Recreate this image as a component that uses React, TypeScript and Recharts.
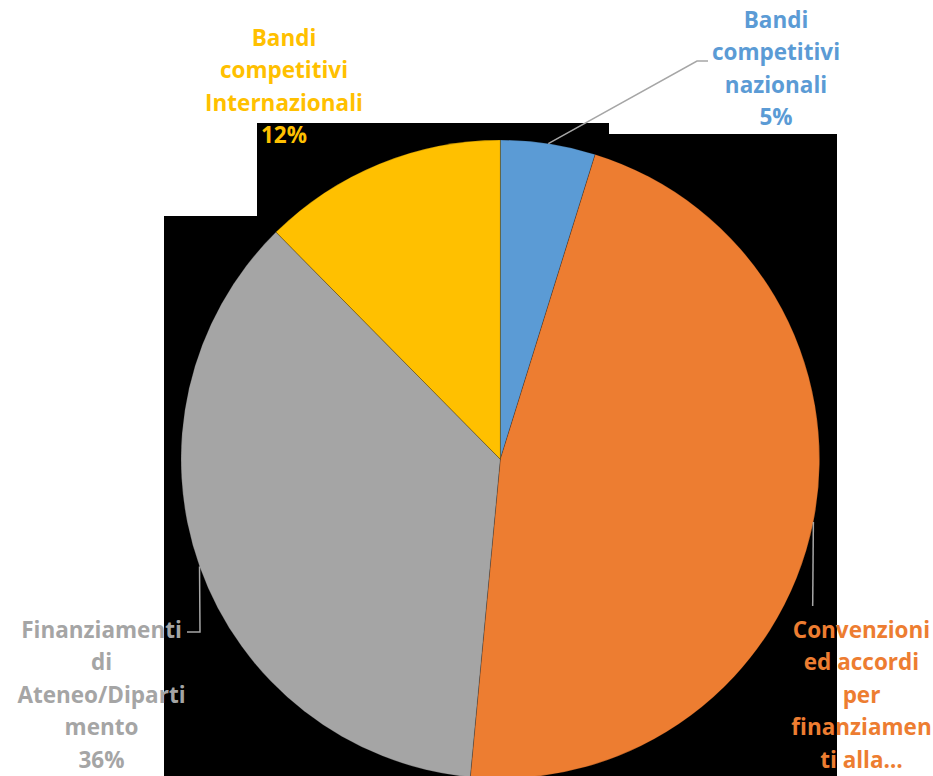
import React from "react";
import { PieChart, Pie, Cell } from "recharts";

// valori (percentuali)
const categories = [
  "Bandi\ncompetitivi\nnazionali",
  "Convenzioni\ned accordi\nper\nfinanziamen\nti alla…",
  "Finanziamenti\ndi\nAteneo/Diparti\nmento",
  "Bandi\ncompetitivi\nInternazionali",
];
const values = [4.8, 46.7, 36.1, 12.4];
const colors = ["#5B9BD5", "#ED7D31", "#A5A5A5", "#FFC000"];
const showPercent = [true, false, true, true];

const data = categories.map((name, i) => ({ name, value: values[i] }));

const CX = 500.3;
const CY = 459.3;
const R = 319.3;
const LINE_H = 32.4;
const RAD = Math.PI / 180;

// posizione della prima riga dell'etichetta e punti della linea guida, rispetto al centro
const labelLayout = [
  { dx: 275.7, dy: -431.3, leader: [[196.7, -398.3], [207.7, -398.3]] },
  { dx: 361.2, dy: 178.7, leader: [[312.4, 146.7]] },
  { dx: -398.8, dy: 178.7, leader: [[-300.3, 172.7], [-313.3, 172.7]] },
  { dx: -216.3, dy: -413.3, leader: null },
];

function renderLabel(props: any) {
  const { cx, cy, index, percent } = props;
  const layout = labelLayout[index];
  const lines = categories[index].split("\n");
  if (showPercent[index]) lines.push(`${Math.round(percent * 100)}%`);
  return (
    <text
      x={cx + layout.dx}
      y={cy + layout.dy}
      textAnchor="middle"
      fill={colors[index]}
      style={{ fontFamily: "'Open Sans', 'DejaVu Sans', sans-serif", fontWeight: 700, fontSize: 22.5 }}
    >
      {lines.map((l, i) => (
        <tspan key={i} x={cx + layout.dx} dy={i === 0 ? 0 : LINE_H}>
          {l}
        </tspan>
      ))}
    </text>
  );
}

function renderLine(props: any) {
  const { cx, cy, midAngle, outerRadius, index } = props;
  const layout = labelLayout[index];
  if (!layout.leader) return <g />;
  const sx = cx + outerRadius * Math.cos(-midAngle * RAD);
  const sy = cy + outerRadius * Math.sin(-midAngle * RAD);
  const pts = [[sx, sy], ...layout.leader.map(([x, y]) => [cx + x, cy + y])];
  return (
    <polyline
      points={pts.map((p) => p.join(",")).join(" ")}
      fill="none"
      stroke="#A6A6A6"
      strokeWidth={1.5}
    />
  );
}

export default function App() {
  return (
    <div style={{ position: "absolute", left: 0, top: 0, width: 933, height: 776, background: "#fff", overflow: "hidden" }}>
      <svg width={933} height={776} style={{ position: "absolute", left: 0, top: 0 }}>
        <polygon points="257,123 609,123 609,134 837,134 837,776 164,776 164,216 257,216" fill="#000" />
      </svg>
      <div style={{ position: "absolute", left: 0, top: 0 }}>
        <PieChart width={933} height={776} margin={{ top: 0, right: 0, bottom: 0, left: 0 }}>
          <Pie
            data={data}
            dataKey="value"
            nameKey="name"
            cx={CX}
            cy={CY}
            outerRadius={R}
            startAngle={90}
            endAngle={-270}
            isAnimationActive={false}
            label={renderLabel}
            labelLine={renderLine}
            stroke="rgba(0,0,0,0.25)"
            strokeWidth={0.75}
          >
            {data.map((d, i) => (
              <Cell key={d.name} fill={colors[i]} />
            ))}
          </Pie>
        </PieChart>
      </div>
    </div>
  );
}
